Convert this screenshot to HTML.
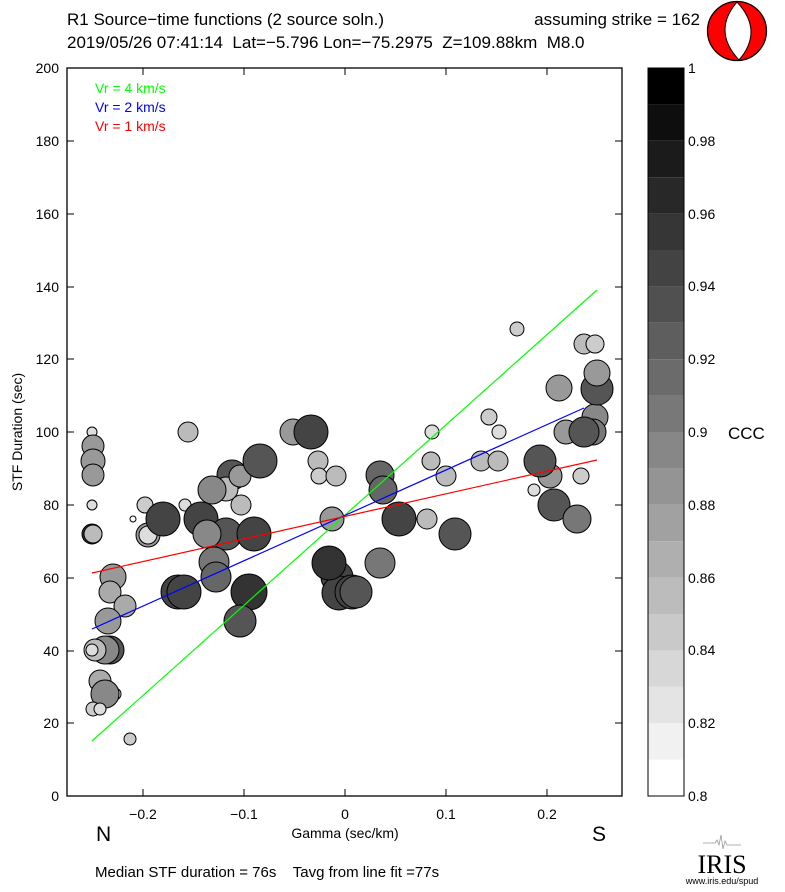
<!DOCTYPE html>
<html><head><meta charset="utf-8"><style>
body{margin:0;background:#fff}
svg text{font-family:"Liberation Sans",sans-serif;fill:#000;white-space:pre}
</style></head><body>
<svg width="785" height="887" xmlns="http://www.w3.org/2000/svg">
<text x="67" y="25" font-size="17">R1 Source−time functions (2 source soln.)</text>
<text x="700" y="25" font-size="17" text-anchor="end">assuming strike = 162</text>
<text x="67" y="48" font-size="17">2019/05/26 07:41:14  Lat=−5.796 Lon=−75.2975  Z=109.88km  M8.0</text>
<g>
<circle cx="737" cy="31" r="29.5" fill="#f00" stroke="#000" stroke-width="1.3"/>
<path d="M737,2 Q712,31 739,60 Q764,31 737,2 Z" fill="#fff" stroke="#000" stroke-width="1"/>
</g>
<rect x="67" y="68" width="555" height="728" fill="none" stroke="#000" stroke-width="1.3"/>
<g stroke="#000" stroke-width="1">
<path d="M67,796h7M67,723h7M67,651h7M67,578h7M67,505h7M67,432h7M67,359h7M67,287h7M67,214h7M67,141h7M67,68h7"/>
<path d="M622,796h-7M622,723h-7M622,651h-7M622,578h-7M622,505h-7M622,432h-7M622,359h-7M622,287h-7M622,214h-7M622,141h-7M622,68h-7"/>
<path d="M143,796v-7M244,796v-7M345,796v-7M446,796v-7M547,796v-7"/>
<path d="M143,68v7M244,68v7M345,68v7M446,68v7M547,68v7"/>
</g>
<g font-size="14" text-anchor="end">
<text x="59" y="801">0</text><text x="59" y="728">20</text><text x="59" y="656">40</text>
<text x="59" y="583">60</text><text x="59" y="510">80</text><text x="59" y="437">100</text>
<text x="59" y="364">120</text><text x="59" y="292">140</text><text x="59" y="219">160</text>
<text x="59" y="146">180</text><text x="59" y="73">200</text>
</g>
<g font-size="14" text-anchor="middle">
<text x="143" y="819">−0.2</text><text x="244" y="819">−0.1</text><text x="345" y="819">0</text>
<text x="446" y="819">0.1</text><text x="547" y="819">0.2</text>
<text x="345" y="838">Gamma (sec/km)</text>
</g>
<text x="22" y="432" font-size="14" text-anchor="middle" transform="rotate(-90 22 432)">STF Duration (sec)</text>
<text x="96" y="841" font-size="21">N</text>
<text x="592" y="841" font-size="21">S</text>
<text x="95" y="877" font-size="15">Median STF duration = 76s    Tavg from line fit =77s</text>
<g font-size="14">
<text x="95" y="93" style="fill:#0f0">Vr = 4 km/s</text>
<text x="95" y="112" style="fill:#00f">Vr = 2 km/s</text>
<text x="95" y="131" style="fill:#f00">Vr = 1 km/s</text>
</g>
<g stroke="#000" stroke-width="1">
<circle cx="92" cy="432" r="5" fill="#ddd"/>
<circle cx="93" cy="446" r="11" fill="#999"/>
<circle cx="93" cy="461" r="12" fill="#999"/>
<circle cx="93" cy="475" r="11" fill="#999"/>
<circle cx="92" cy="505" r="5" fill="#ddd"/>
<circle cx="92" cy="534" r="10" fill="#333"/>
<circle cx="93" cy="534" r="9" fill="#bbb"/>
<circle cx="113" cy="577" r="13" fill="#999"/>
<circle cx="110" cy="592" r="11" fill="#aaa"/>
<circle cx="125" cy="606" r="11" fill="#aaa"/>
<circle cx="108" cy="621" r="13" fill="#999"/>
<circle cx="110" cy="650" r="14" fill="#555"/>
<circle cx="105" cy="650" r="14" fill="#888"/>
<circle cx="95" cy="650" r="11" fill="#bbb"/>
<circle cx="92" cy="650" r="6" fill="#ddd"/>
<circle cx="100" cy="681" r="11" fill="#aaa"/>
<circle cx="115" cy="694" r="6" fill="#ccc"/>
<circle cx="105" cy="694" r="14" fill="#888"/>
<circle cx="93" cy="709" r="7" fill="#ccc"/>
<circle cx="100" cy="709" r="6" fill="#ddd"/>
<circle cx="130" cy="739" r="6" fill="#ccc"/>
<circle cx="133" cy="519" r="3" fill="#fff"/>
<circle cx="145" cy="505" r="8" fill="#ccc"/>
<circle cx="148" cy="535" r="12" fill="#999"/>
<circle cx="148" cy="535" r="9" fill="#ddd"/>
<circle cx="163" cy="519" r="17" fill="#444"/>
<circle cx="188" cy="432" r="10" fill="#bbb"/>
<circle cx="185" cy="505" r="6" fill="#ddd"/>
<circle cx="232" cy="475" r="15" fill="#555"/>
<circle cx="226" cy="489" r="12" fill="#bbb"/>
<circle cx="240" cy="476" r="11" fill="#999"/>
<circle cx="241" cy="505" r="10" fill="#bbb"/>
<circle cx="212" cy="490" r="14" fill="#888"/>
<circle cx="260" cy="461" r="17" fill="#555"/>
<circle cx="201" cy="519" r="17" fill="#444"/>
<circle cx="226" cy="534" r="16" fill="#555"/>
<circle cx="207" cy="534" r="14" fill="#888"/>
<circle cx="254" cy="534" r="17" fill="#444"/>
<circle cx="214" cy="562" r="15" fill="#777"/>
<circle cx="216" cy="577" r="15" fill="#666"/>
<circle cx="178" cy="592" r="17" fill="#444"/>
<circle cx="184" cy="592" r="17" fill="#444"/>
<circle cx="249" cy="592" r="18" fill="#333"/>
<circle cx="240" cy="621" r="16" fill="#555"/>
<circle cx="293" cy="432" r="13" fill="#999"/>
<circle cx="311" cy="432" r="17" fill="#444"/>
<circle cx="318" cy="461" r="10" fill="#bbb"/>
<circle cx="319" cy="476" r="8" fill="#ccc"/>
<circle cx="336" cy="476" r="10" fill="#bbb"/>
<circle cx="332" cy="519" r="12" fill="#999"/>
<circle cx="337" cy="577" r="16" fill="#444"/>
<circle cx="339" cy="593" r="17" fill="#444"/>
<circle cx="329" cy="563" r="17" fill="#333"/>
<circle cx="352" cy="592" r="17" fill="#444"/>
<circle cx="356" cy="592" r="16" fill="#555"/>
<circle cx="380" cy="563" r="15" fill="#777"/>
<circle cx="380" cy="475" r="14" fill="#666"/>
<circle cx="383" cy="490" r="14" fill="#666"/>
<circle cx="399" cy="519" r="17" fill="#444"/>
<circle cx="427" cy="519" r="10" fill="#bbb"/>
<circle cx="432" cy="432" r="7" fill="#ddd"/>
<circle cx="431" cy="461" r="9" fill="#bbb"/>
<circle cx="446" cy="476" r="10" fill="#bbb"/>
<circle cx="455" cy="534" r="16" fill="#555"/>
<circle cx="489" cy="417" r="8" fill="#ccc"/>
<circle cx="499" cy="432" r="7" fill="#ddd"/>
<circle cx="481" cy="461" r="10" fill="#bbb"/>
<circle cx="498" cy="461" r="10" fill="#bbb"/>
<circle cx="517" cy="329" r="7" fill="#ccc"/>
<circle cx="534" cy="490" r="6" fill="#ddd"/>
<circle cx="550" cy="476" r="12" fill="#999"/>
<circle cx="540" cy="461" r="16" fill="#555"/>
<circle cx="554" cy="505" r="16" fill="#555"/>
<circle cx="577" cy="519" r="14" fill="#777"/>
<circle cx="581" cy="476" r="8" fill="#ccc"/>
<circle cx="559" cy="388" r="13" fill="#999"/>
<circle cx="566" cy="432" r="12" fill="#999"/>
<circle cx="595" cy="417" r="13" fill="#888"/>
<circle cx="593" cy="432" r="13" fill="#777"/>
<circle cx="584" cy="432" r="15" fill="#555"/>
<circle cx="584" cy="344" r="10" fill="#bbb"/>
<circle cx="595" cy="344" r="9" fill="#ccc"/>
<circle cx="597" cy="389" r="16" fill="#555"/>
<circle cx="597" cy="373" r="13" fill="#999"/>
</g>
<g stroke-width="1.2" fill="none">
<line x1="92" y1="741" x2="597" y2="290" stroke="#0f0"/>
<line x1="92" y1="629" x2="584" y2="408" stroke="#00f"/>
<line x1="92" y1="573" x2="597" y2="460" stroke="#f00"/>
</g>
<g>
<rect x="648" y="759.6" width="36" height="36.4" fill="#fff"/>
<rect x="648" y="723.2" width="36" height="36.4" fill="#f1f1f1"/>
<rect x="648" y="686.8" width="36" height="36.4" fill="#e4e4e4"/>
<rect x="648" y="650.4" width="36" height="36.4" fill="#d7d7d7"/>
<rect x="648" y="614" width="36" height="36.4" fill="#c9c9c9"/>
<rect x="648" y="577.6" width="36" height="36.4" fill="#bcbcbc"/>
<rect x="648" y="541.2" width="36" height="36.4" fill="#afafaf"/>
<rect x="648" y="504.8" width="36" height="36.4" fill="#a1a1a1"/>
<rect x="648" y="468.4" width="36" height="36.4" fill="#949494"/>
<rect x="648" y="432" width="36" height="36.4" fill="#878787"/>
<rect x="648" y="395.6" width="36" height="36.4" fill="#787878"/>
<rect x="648" y="359.2" width="36" height="36.4" fill="#6b6b6b"/>
<rect x="648" y="322.8" width="36" height="36.4" fill="#5e5e5e"/>
<rect x="648" y="286.4" width="36" height="36.4" fill="#505050"/>
<rect x="648" y="250" width="36" height="36.4" fill="#434343"/>
<rect x="648" y="213.6" width="36" height="36.4" fill="#363636"/>
<rect x="648" y="177.2" width="36" height="36.4" fill="#282828"/>
<rect x="648" y="140.8" width="36" height="36.4" fill="#1b1b1b"/>
<rect x="648" y="104.4" width="36" height="36.4" fill="#0e0e0e"/>
<rect x="648" y="68" width="36" height="36.4" fill="#000"/>
<rect x="648" y="68" width="36" height="728" fill="none" stroke="#000" stroke-width="1"/>
</g>
<g font-size="14">
<text x="688" y="801">0.8</text><text x="688" y="728">0.82</text><text x="688" y="655">0.84</text>
<text x="688" y="583">0.86</text><text x="688" y="510">0.88</text><text x="688" y="437">0.9</text>
<text x="688" y="364">0.92</text><text x="688" y="291">0.94</text><text x="688" y="219">0.96</text>
<text x="688" y="146">0.98</text><text x="688" y="73">1</text>
</g>
<text x="728" y="439" font-size="17">CCC</text>
<path d="M703,843 h12 l2,-3 l2,5 l2,-10 l2,14 l2,-8 l2,4 h14" stroke="#999" fill="none" stroke-width="0.8"/>
<text x="722" y="873" font-size="26" text-anchor="middle" style="font-family:'Liberation Serif',serif">IRIS</text>
<text x="722" y="884" font-size="9" text-anchor="middle">www.iris.edu/spud</text>
</svg>
</body></html>
